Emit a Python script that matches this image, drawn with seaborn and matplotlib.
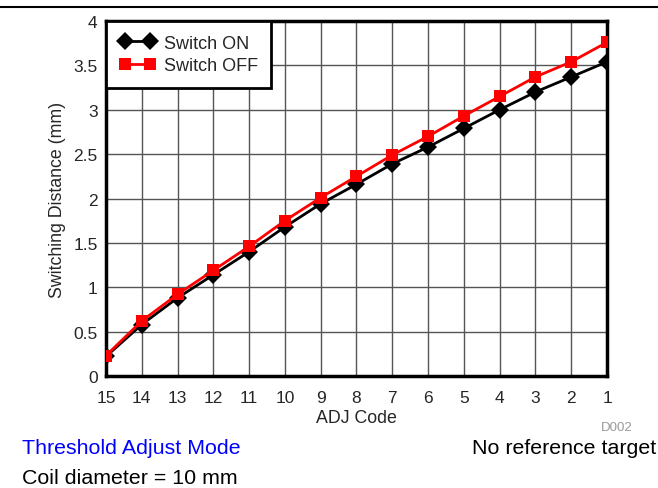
import numpy as np
import pandas as pd
import matplotlib
matplotlib.use("Agg")
import matplotlib.pyplot as plt
import seaborn as sns

adj_code = [15, 14, 13, 12, 11, 10, 9, 8, 7, 6, 5, 4, 3, 2, 1]
switch_on = [0.22, 0.58, 0.88, 1.14, 1.40, 1.68, 1.94, 2.16, 2.39, 2.58, 2.79, 3.00, 3.20, 3.37, 3.54]
switch_off = [0.23, 0.62, 0.92, 1.19, 1.46, 1.75, 2.01, 2.25, 2.49, 2.70, 2.93, 3.15, 3.37, 3.54, 3.76]
y_ticks = [0, 0.5, 1, 1.5, 2, 2.5, 3, 3.5, 4]
y_tick_labels = ["0", "0.5", "1", "1.5", "2", "2.5", "3", "3.5", "4"]

df = pd.DataFrame({
    "ADJ Code": adj_code * 2,
    "Distance": switch_on + switch_off,
    "Series": ["Switch ON"] * len(adj_code) + ["Switch OFF"] * len(adj_code),
})

sns.set_style("white")
plt.rcParams["font.family"] = ["Liberation Sans", "DejaVu Sans"]

fig = plt.figure(figsize=(6.58, 4.89), dpi=100)
ax = fig.add_axes([0.161, 0.229, 0.7615, 0.726])

sns.lineplot(data=df, x="ADJ Code", y="Distance", hue="Series", style="Series",
             palette={"Switch ON": "black", "Switch OFF": "#ff0000"},
             markers={"Switch ON": "D", "Switch OFF": "s"},
             dashes=False, markersize=9, linewidth=2, markeredgewidth=0,
             ax=ax, zorder=3)

ax.set_xlim(15, 1)
ax.set_ylim(0, 4)
ax.set_xticks(adj_code)
ax.set_xticklabels([str(c) for c in adj_code])
ax.set_yticks(y_ticks)
ax.set_yticklabels(y_tick_labels)
ax.tick_params(axis="both", length=0, labelsize=12.5)
ax.tick_params(axis="x", pad=10)
ax.tick_params(axis="y", pad=6)
ax.grid(True, color="#555555", linewidth=1)
for s in ax.spines.values():
    s.set_linewidth(2.5)
    s.set_color("black")
ax.set_xlabel("ADJ Code", fontsize=12.8, labelpad=3)
ax.set_ylabel("Switching Distance (mm)", fontsize=12.8, labelpad=5)

leg = ax.legend(loc="upper left", fontsize=13, frameon=True, fancybox=False,
                borderaxespad=0, handlelength=2.0, handletextpad=0.45,
                labelspacing=0.3, borderpad=0.75, numpoints=2)
leg.get_frame().set_edgecolor("black")
leg.get_frame().set_linewidth(2)
leg.get_frame().set_alpha(1)
leg.set_title(None)

fig.add_artist(plt.Line2D([0, 1], [1 - 8 / 489, 1 - 8 / 489], color="black", linewidth=1.5))
fig.text(617 / 658, 1 - 428 / 489, "D002", color="#999999", fontsize=9.5, ha="center", va="center")
fig.text(22 / 658, 1 - 449 / 489, "Threshold Adjust Mode", color="#0000ff", fontsize=15.4, ha="left", va="center")
fig.text(22 / 658, 1 - 479 / 489, "Coil diameter = 10 mm", color="black", fontsize=15.4, ha="left", va="center")
fig.text(656 / 658, 1 - 449 / 489, "No reference target", color="black", fontsize=15.4, ha="right", va="center")

fig.savefig("out.png", dpi=100)
